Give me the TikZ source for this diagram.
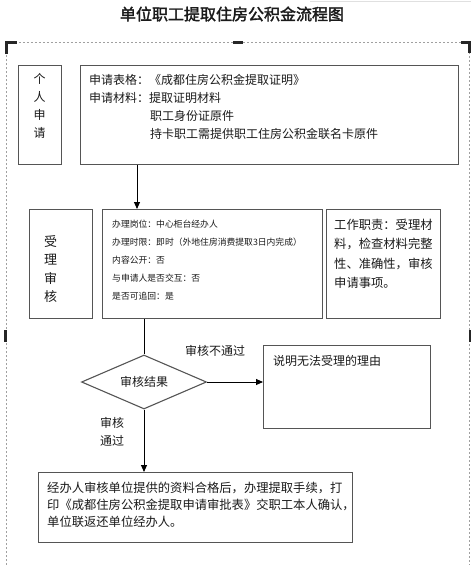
\documentclass[tikz,border=0pt]{standalone}
\usepackage{fontspec}
\setmainfont{Noto Sans CJK SC}
\newfontfamily\cjkbold[FakeBold=2]{Noto Sans CJK SC}
\usetikzlibrary{shapes.geometric,arrows.meta}
\definecolor{boxc}{HTML}{555555}
\definecolor{txtc}{HTML}{1A1A1A}
\definecolor{framec}{HTML}{A0A0A0}
\begin{document}
\begin{tikzpicture}[x=1pt,y=-1pt,
  box/.style={draw=boxc,line width=1.1pt,inner sep=0,anchor=north west},
  txt/.style={inner sep=0,anchor=north west,align=left,text=txtc},
  ctxt/.style={inner sep=0,align=center,text=txtc},
  arr/.style={draw=black,line width=0.9pt,-{Triangle[length=7pt,width=6pt]}},
  ln/.style={draw=black,line width=0.9pt},
  cornermark/.style={draw=black!85,line width=3pt,line cap=butt},
]
\useasboundingbox (0,0) rectangle (471,565);
\fill[white] (0,0) rectangle (471,565);
% faint top-right line
\draw[black!12,line width=0.8pt] (310,1) -- (471,1);
% title
\node[inner sep=0,text=txtc,font={\cjkbold\fontsize{16pt}{16pt}\selectfont}] (title) at (232,14) {单位职工提取住房公积金流程图};
% dashed frame
\draw[framec,dash pattern=on 2pt off 2pt,line width=0.6pt] (6,565) -- (6,42) -- (469,42) -- (469,565);
\draw[cornermark] (6.5,54) -- (6.5,42.5) -- (17,42.5);
\draw[cornermark] (461,42.5) -- (469.5,42.5) -- (469.5,53);
\draw[cornermark] (233,42) -- (243,42);
\draw[cornermark,line width=2.5pt] (5.5,330) -- (5.5,342);
\draw[cornermark,line width=2.5pt] (470,330) -- (470,342);

% boxes
\node[box,minimum width=43,minimum height=99] (pbox) at (18,65) {};
\node[box,minimum width=378,minimum height=99] (app) at (80,65) {};
\node[box,minimum width=63,minimum height=109] (rev) at (29,209) {};
\node[box,minimum width=220,minimum height=109] (mid) at (102,209) {};
\node[box,minimum width=114,minimum height=109] (duty) at (326,209) {};
\node[draw=boxc,line width=1.1pt,diamond,aspect=2.3,inner sep=0,minimum width=125,minimum height=54,text=txtc,font={\fontsize{12pt}{12pt}\selectfont}] (dia) at (144,382) {审核结果};
\node[box,minimum width=167,minimum height=83] (reason) at (263,345) {};
\node[box,minimum width=314,minimum height=70] (fin) at (38,472) {};

% texts
\node[ctxt,anchor=north,font={\fontsize{12pt}{18pt}\selectfont}] (ptxt) at (39.5,73) {个\\人\\申\\请};
\node[txt,font={\fontsize{12pt}{18pt}\selectfont}] (apptxt) at (89,74) {申请表格：《成都住房公积金提取证明》\\申请材料：提取证明材料\\\hspace*{61pt}职工身份证原件\\\hspace*{61pt}持卡职工需提供职工住房公积金联名卡原件};
\node[ctxt,anchor=north,font={\fontsize{13pt}{18.5pt}\selectfont}] (revtxt) at (50.5,235) {受\\理\\审\\核};
\node[txt,font={\fontsize{8.8pt}{18pt}\selectfont}] (midtxt) at (112,219.5) {办理岗位：中心柜台经办人\\办理时限：即时（外地住房消费提取3日内完成）\\内容公开：否\\与申请人是否交互：否\\是否可追回：是};
\node[txt,font={\fontsize{12.3pt}{19.5pt}\selectfont}] (dutytxt) at (334,218.5) {工作职责：受理材\\料，检查材料完整\\性、准确性，审核\\申请事项。};
\node[txt,font={\fontsize{12pt}{12pt}\selectfont}] (reasontxt) at (273,355) {说明无法受理的理由};
\node[txt,font={\fontsize{12.3pt}{17pt}\selectfont}] (fintxt) at (47,482) {经办人审核单位提供的资料合格后，办理提取手续，打\\印《成都住房公积金提取申请审批表》交职工本人确认，\\单位联返还单位经办人。};
\node[ctxt,font={\fontsize{12pt}{12pt}\selectfont}] (nolbl) at (215,351) {审核不通过};
\node[ctxt,font={\fontsize{12pt}{18pt}\selectfont}] (yeslbl) at (112,432) {审核\\通过};

% connectors
\draw[arr] ([xshift=57pt]app.south west) -- ([xshift=35pt]mid.north west);
\draw[ln] ([xshift=42pt]mid.south west) -- (dia.north);
\draw[arr] (dia.east) -- (dia.east -| reason.west);
\draw[arr] (dia.south) -- (dia.south |- fin.north);
\end{tikzpicture}
\end{document}
